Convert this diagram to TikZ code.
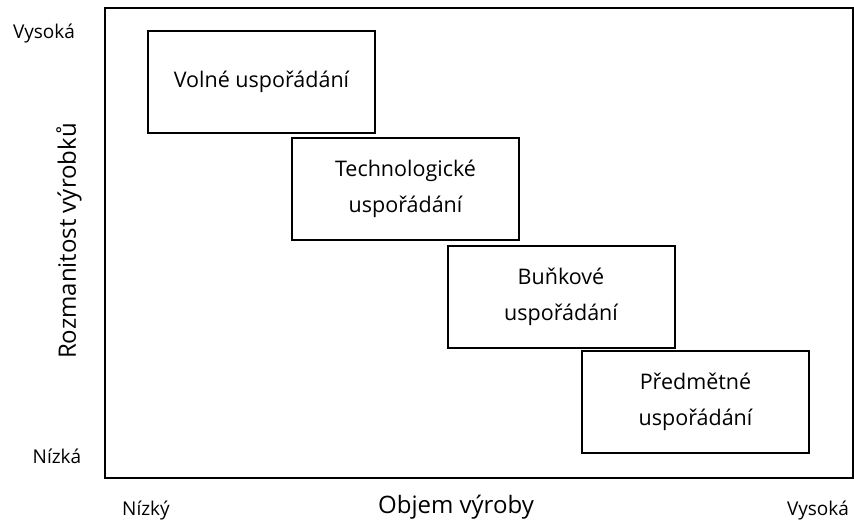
\documentclass[tikz,border=0pt]{standalone}
\usepackage{fontspec}
\setmainfont{Open Sans}
\begin{document}
\begin{tikzpicture}[x=1pt,y=-1pt,
  layout/.style={draw=black, line width=2pt, fill=white, minimum width=227pt, minimum height=102pt,
    align=center, font=\fontsize{21.5}{36}\selectfont, inner sep=0pt},
  ticklabel/.style={font=\fontsize{19}{22}\selectfont, inner sep=0pt},
  axislabel/.style={font=\fontsize{24}{28}\selectfont, inner sep=0pt}]
  \useasboundingbox (0,0) rectangle (854,525);
  % plotting frame
  \draw[line width=2.2pt] (105,8) rectangle (853,478);
  % layout types
  \node[layout] (volne) at (261.5,82) {Volné uspořádání};
  \node[layout] (techno) at (405.5,188.5) {Technologické\\uspořádání};
  \node[layout] (bunkove) at (561,296.5) {Buňkové\\uspořádání};
  \node[layout] (predmetne) at (695.5,402) {Předmětné\\uspořádání};
  % axis descriptions
  \node[ticklabel] (yhigh) at (44,34) {Vysoká};
  \node[ticklabel] (ylow) at (57,456) {Nízká};
  \node[ticklabel] (xlow) at (146,510) {Nízký};
  \node[ticklabel] (xhigh) at (818,510) {Vysoká};
  \node[axislabel] (xlabel) at (456,507) {Objem výroby};
  \node[axislabel, rotate=90] (ylabel) at (69,241) {Rozmanitost výrobků};
\end{tikzpicture}
\end{document}
